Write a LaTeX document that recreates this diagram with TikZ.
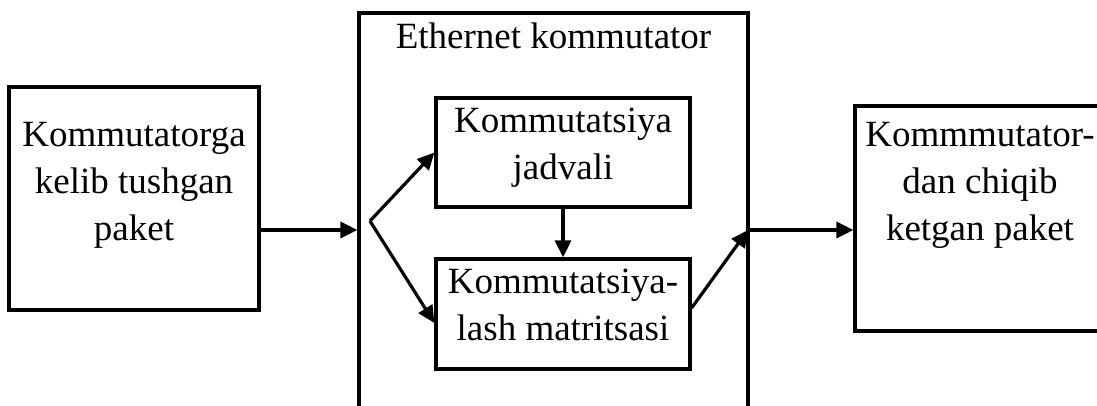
\documentclass[tikz,border=0pt]{standalone}
\usepackage{fontspec}
\setmainfont{Liberation Serif}
\usetikzlibrary{arrows.meta,calc}
\begin{document}
\begin{tikzpicture}[x=1pt,y=-1pt,
  frame/.style={draw, line width=3.2pt, inner sep=0pt},
  lbl/.style={align=center, inner sep=0pt, font=\fontsize{37}{47}\selectfont},
  arr/.style={line width=3.2pt, -{Triangle[length=17pt,width=16pt]}}]
\useasboundingbox (0,0) rectangle (1097,406);
% boxes
\node[frame, minimum width=250pt, minimum height=223pt] (L) at (134,198.5) {};
\node[frame, minimum width=389pt, minimum height=407pt] (B) at (553.5,216.5) {};
\node[frame, minimum width=254pt, minimum height=109pt] (T) at (563,152.5) {};
\node[frame, minimum width=254pt, minimum height=110pt] (M) at (563,314) {};
\node[frame, minimum width=250pt, minimum height=225pt] (R) at (980,218.5) {};
% texts
\node[lbl] (Lt) at (134,185.5) {Kommutatorga\\kelib tushgan\\paket};
\node[lbl, anchor=base] (Bt) at (553.5,49) {Ethernet kommutator};
\node[lbl] (Tt) at (563,148) {Kommutatsiya\\jadvali};
\node[lbl] (Mt) at (563,305) {Kommutatsiya-\\lash matritsasi};
\node[lbl] (Rt) at (980,185) {Kommmutator-\\dan chiqib\\ketgan paket};
% connectors
\coordinate (S) at (370,221);
\coordinate (J) at (748,230);
\draw[arr] ([yshift=-31.5pt]L.east) -- (B.west |- J);
\draw[arr] (S) -- (T.west);
\draw[arr] (S) -- ([yshift=-9pt]M.west);
\draw[arr] (T.south) -- (M.north);
\draw[arr] ([yshift=6pt]M.east) -- (J);
\draw[arr] (J) -- (R.west |- J);
\end{tikzpicture}
\end{document}
